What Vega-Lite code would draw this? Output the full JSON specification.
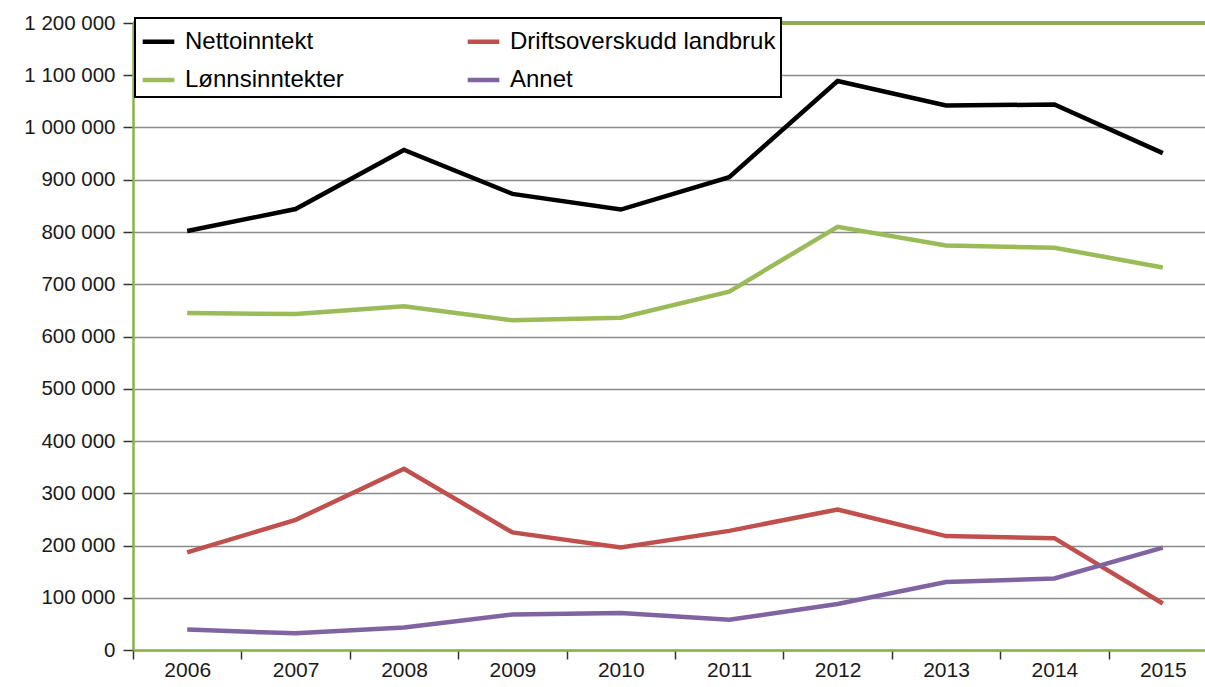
{
  "$schema": "https://vega.github.io/schema/vega-lite/v6.json",
  "autosize": "none",
  "padding": {"left": 133, "top": 23, "right": 0, "bottom": 37},
  "width": 1072,
  "height": 627,
  "background": "white",
  "config": {
    "view": {"stroke": null},
    "font": "Liberation Sans",
    "locale": {"number": {"decimal": ",", "thousands": " ", "grouping": [3], "currency": ["", " kr"]}}
  },
  "data": {
    "values": [
      {"year": "2006", "series": "Nettoinntekt", "value": 802000},
      {"year": "2007", "series": "Nettoinntekt", "value": 844000},
      {"year": "2008", "series": "Nettoinntekt", "value": 957000},
      {"year": "2009", "series": "Nettoinntekt", "value": 873000},
      {"year": "2010", "series": "Nettoinntekt", "value": 843000},
      {"year": "2011", "series": "Nettoinntekt", "value": 905000},
      {"year": "2012", "series": "Nettoinntekt", "value": 1089000},
      {"year": "2013", "series": "Nettoinntekt", "value": 1042000},
      {"year": "2014", "series": "Nettoinntekt", "value": 1044000},
      {"year": "2015", "series": "Nettoinntekt", "value": 951000},
      {"year": "2006", "series": "Driftsoverskudd landbruk", "value": 187000},
      {"year": "2007", "series": "Driftsoverskudd landbruk", "value": 249000},
      {"year": "2008", "series": "Driftsoverskudd landbruk", "value": 347000},
      {"year": "2009", "series": "Driftsoverskudd landbruk", "value": 225000},
      {"year": "2010", "series": "Driftsoverskudd landbruk", "value": 196000},
      {"year": "2011", "series": "Driftsoverskudd landbruk", "value": 228000},
      {"year": "2012", "series": "Driftsoverskudd landbruk", "value": 269000},
      {"year": "2013", "series": "Driftsoverskudd landbruk", "value": 218000},
      {"year": "2014", "series": "Driftsoverskudd landbruk", "value": 214000},
      {"year": "2015", "series": "Driftsoverskudd landbruk", "value": 89000},
      {"year": "2006", "series": "Lønnsinntekter", "value": 645000},
      {"year": "2007", "series": "Lønnsinntekter", "value": 643000},
      {"year": "2008", "series": "Lønnsinntekter", "value": 658000},
      {"year": "2009", "series": "Lønnsinntekter", "value": 631000},
      {"year": "2010", "series": "Lønnsinntekter", "value": 636000},
      {"year": "2011", "series": "Lønnsinntekter", "value": 686000},
      {"year": "2012", "series": "Lønnsinntekter", "value": 810000},
      {"year": "2013", "series": "Lønnsinntekter", "value": 774000},
      {"year": "2014", "series": "Lønnsinntekter", "value": 770000},
      {"year": "2015", "series": "Lønnsinntekter", "value": 732000},
      {"year": "2006", "series": "Annet", "value": 39000},
      {"year": "2007", "series": "Annet", "value": 32000},
      {"year": "2008", "series": "Annet", "value": 43000},
      {"year": "2009", "series": "Annet", "value": 68000},
      {"year": "2010", "series": "Annet", "value": 71000},
      {"year": "2011", "series": "Annet", "value": 58000},
      {"year": "2012", "series": "Annet", "value": 88000},
      {"year": "2013", "series": "Annet", "value": 130000},
      {"year": "2014", "series": "Annet", "value": 137000},
      {"year": "2015", "series": "Annet", "value": 196000}
    ]
  },
  "layer": [
    {
      "mark": {"type": "rule", "color": "#8DB04A", "strokeWidth": 2.5},
      "encoding": {"y": {"datum": 1200000, "type": "quantitative"}}
    },
    {
      "mark": {"type": "line", "strokeWidth": 4.5, "strokeJoin": "miter"},
      "encoding": {
        "x": {
          "field": "year",
          "type": "ordinal",
          "bandPosition": 0.5,
          "scale": {"type": "band", "range": [0, 1084], "paddingInner": 0, "paddingOuter": 0},
          "axis": {
            "title": null,
            "tickBand": "extent",
            "labelAngle": 0,
            "labelFontSize": 21,
            "labelColor": "#1a1a1a",
            "labelPadding": 0,
            "tickSize": 9,
            "tickColor": "#333333",
            "tickWidth": 1.5,
            "domainColor": "#8DB04A",
            "domainWidth": 2.5,
            "grid": false
          }
        },
        "y": {
          "field": "value",
          "type": "quantitative",
          "scale": {"domain": [0, 1200000], "nice": false},
          "axis": {
            "title": null,
            "values": [0, 100000, 200000, 300000, 400000, 500000, 600000, 700000, 800000, 900000, 1000000, 1100000, 1200000],
            "format": ",d",
            "labelFontSize": 20.5,
            "labelColor": "#1a1a1a",
            "labelPadding": 8,
            "tickSize": 10,
            "tickColor": "#333333",
            "tickWidth": 1.5,
            "domainColor": "#8DB04A",
            "domainWidth": 2.5,
            "grid": true,
            "gridColor": "#8a8a8a",
            "gridWidth": 1.5
          }
        },
        "color": {
          "field": "series",
          "type": "nominal",
          "scale": {
            "domain": ["Nettoinntekt", "Driftsoverskudd landbruk", "Lønnsinntekter", "Annet"],
            "range": ["#000000", "#C0504D", "#9BBB59", "#8064A2"]
          },
          "legend": {
            "title": null,
            "orient": "none",
            "legendX": 2,
            "legendY": -5,
            "columns": 2,
            "direction": "horizontal",
            "columnPadding": 114,
            "rowPadding": 7.5,
            "padding": 5,
            "fillColor": "white",
            "strokeColor": "#000000",
            "symbolType": "stroke",
            "symbolSize": 1000,
            "symbolStrokeWidth": 4.5,
            "symbolOffset": 0,
            "labelOffset": 8,
            "labelFontSize": 24,
            "labelColor": "#000000",
            "labelLimit": 400,
            "encode": {"legend": {"update": {"strokeWidth": {"value": 2}}}}
          }
        }
      }
    }
  ]
}
